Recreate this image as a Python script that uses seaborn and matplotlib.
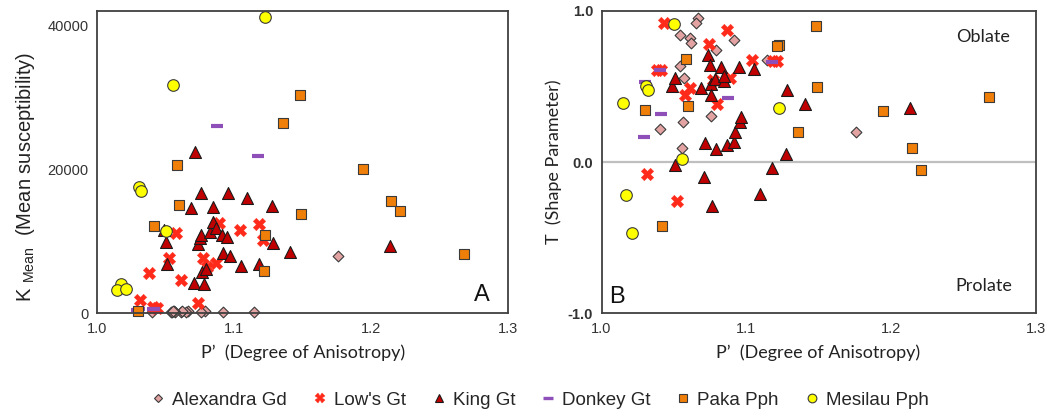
import numpy as np
import pandas as pd
import seaborn as sns
import matplotlib.pyplot as plt
from matplotlib.lines import Line2D

# ---- data ----
alex_p = [1.0664, 1.0650, 1.0540, 1.0609, 1.0619, 1.0917, 1.0788, 1.1147,
          1.0545, 1.0572, 1.0757, 1.0561, 1.0402, 1.0557, 1.1759]
alex_k = [250, 220, 230, 240, 260, 230, 250, 240, 210, 230, 240, 250, 220, 260, 7900]
alex_t = [0.954, 0.918, 0.844, 0.822, 0.791, 0.809, 0.743, 0.678,
          0.638, 0.559, 0.305, 0.263, 0.219, 0.092, 0.197]

lows_p = [1.0434, 1.0870, 1.0740, 1.1040, 1.1212, 1.1184, 1.0380, 1.0410,
          1.0614, 1.0576, 1.0800, 1.0888, 1.0770, 1.0316, 1.0525]
lows_k = [690, 7020, 1390, 11550, 10170, 12390, 5550, 900,
          4620, 11180, 6500, 12480, 7630, 1840, 7630]
lows_t = [0.918, 0.875, 0.783, 0.673, 0.668, 0.668, 0.609, 0.609,
          0.493, 0.443, 0.384, 0.559, 0.541, -0.079, -0.259]

king_p = [1.0488, 1.0505, 1.0508, 1.0689, 1.0705, 1.0712, 1.0738, 1.0749,
          1.0755, 1.0758, 1.0765, 1.0781, 1.0793, 1.0826, 1.0845, 1.0848,
          1.0867, 1.0913, 1.0921, 1.0951, 1.0956, 1.0967, 1.1052, 1.1095,
          1.1180, 1.1277, 1.1284, 1.1404, 1.2135]
king_k = [11550, 9930, 6800, 14650, 4160, 22410, 9570, 10490,
          16730, 10860, 5770, 4020, 6100, 11320, 14790, 12710,
          11790, 10860, 8410, 10540, 16780, 7950, 6560, 15950,
          6800, 14880, 9800, 8550, 9380]
king_t = [0.502, 0.559, -0.022, 0.493, -0.099, 0.129, 0.712, 0.640,
          0.520, 0.443, -0.292, 0.553, 0.086, 0.629, 0.535, 0.568,
          0.114, 0.136, 0.201, 0.629, 0.267, 0.296, 0.618, -0.211,
          -0.039, 0.053, 0.476, 0.384, 0.355]

donkey_p = [1.0877, 1.1175, 1.0292, 1.0303, 1.0407, 1.0414]
donkey_k = [26070, 21910, 500, 550, 550, 600]
donkey_t = [0.425, 0.662, 0.164, 0.530, 0.612, 0.316]

paka_p = [1.1484, 1.1486, 1.1355, 1.0581, 1.1943, 1.0595, 1.2145, 1.2211,
          1.0416, 1.1225, 1.1215, 1.0297, 1.2679]
paka_k = [30280, 13810, 26490, 20610, 20010, 15020, 15580, 14150,
          12110, 10860, 5820, 360, 8180]
paka_t = [0.903, 0.497, 0.199, 0.684, 0.340, 0.370, 0.094, -0.051,
          -0.424, 0.778, 0.770, 0.344, 0.428]

mes_p = [1.1226, 1.0555, 1.0307, 1.0323, 1.0500, 1.0172, 1.0145, 1.0211]
mes_k = [41230, 31760, 17560, 17000, 11460, 4060, 3230, 3330]
mes_t = [0.359, 0.022, 0.502, 0.476, 0.914, -0.215, 0.388, -0.472]

x_ticks = [1.0, 1.1, 1.2, 1.3]
k_ticks = [0, 10000, 20000, 30000, 40000]
k_labels = ["0", "", "20000", "", "40000"]
t_ticks = [-1.0, -0.5, 0.0, 0.5, 1.0]
t_labels = ["-1.0", "", "0.0", "", "1.0"]

# group name -> (P', K, T)
groups = {
    "Alexandra Gd": (alex_p, alex_k, alex_t),
    "Low's Gt": (lows_p, lows_k, lows_t),
    "King Gt": (king_p, king_k, king_t),
    "Donkey Gt": (donkey_p, donkey_k, donkey_t),
    "Paka Pph": (paka_p, paka_k, paka_t),
    "Mesilau Pph": (mes_p, mes_k, mes_t),
}

# marker styling per group
styles = {
    "Alexandra Gd": dict(marker="D", s=30, color="#E3A3A3", edgecolor="#3A3A3A", linewidth=0.8),
    "Low's Gt": dict(marker="X", s=80, color="#FF2A1A", edgecolor="#FF2A1A", linewidth=0.3),
    "King Gt": dict(marker="^", s=74, color="#C00000", edgecolor="#1A1A1A", linewidth=0.8),
    "Donkey Gt": dict(marker="_", s=80, color="#8E4FB8", edgecolor="#8E4FB8", linewidth=3.0),
    "Paka Pph": dict(marker="s", s=46, color="#F07F0A", edgecolor="#3A3A3A", linewidth=0.8),
    "Mesilau Pph": dict(marker="o", s=70, color="#FFFF00", edgecolor="#3A3A3A", linewidth=0.8),
}

rows = []
for name, (p, k, t) in groups.items():
    for pi, ki, ti in zip(p, k, t):
        rows.append({"group": name, "P": pi, "K": ki, "T": ti})
df = pd.DataFrame(rows)

sns.set_theme(style="white")
plt.rcParams["font.family"] = ["Liberation Sans", "DejaVu Sans"]
plt.rcParams["mathtext.fontset"] = "custom"
plt.rcParams["mathtext.rm"] = "Liberation Sans"

fig = plt.figure(figsize=(10.5, 4.19), dpi=100)
ax1 = fig.add_axes([0.0924, 0.2523, 0.3917, 0.7215])
ax2 = fig.add_axes([0.5729, 0.2523, 0.4133, 0.7215])

ax2.axhline(0, color="#BFBFBF", lw=1.6, zorder=0)

for name in groups:
    sub = df[df["group"] == name]
    st = styles[name]
    for ax, col in ((ax1, "K"), (ax2, "T")):
        sns.scatterplot(data=sub, x="P", y=col, ax=ax, legend=False,
                        clip_on=False, **st)

for ax in (ax1, ax2):
    ax.set_xlim(1.0, 1.3)
    ax.set_xticks(x_ticks)
    ax.set_xticklabels([f"{v:.1f}" for v in x_ticks], fontsize=10.5, color="#333333")
    ax.tick_params(direction="in", length=5, width=1.1, colors="#404040", pad=6)
    for lbl in ax.get_xticklabels() + ax.get_yticklabels():
        lbl.set_color("#333333")
    for sp in ax.spines.values():
        sp.set_color("#404040")
        sp.set_linewidth(1.3)
    ax.set_xlabel("P\u2019  (Degree of Anisotropy)", family=["Lato", "DejaVu Sans"],
                  fontsize=13, color="#222222", labelpad=6)

ax1.set_ylim(0, 42000)
ax1.set_yticks(k_ticks)
ax1.set_yticklabels(k_labels, fontsize=10.5, color="#333333")
ax1.set_ylabel(r"K $_{\rm Mean}$  (Mean susceptibility)", fontsize=14.5, color="#222222")
ax1.yaxis.set_label_coords(-0.145, 0.45)

ax2.set_ylim(-1.0, 1.0)
ax2.set_yticks(t_ticks)
ax2.set_yticklabels(t_labels, fontsize=10.5, color="#333333", fontweight="bold")
ax2.set_ylabel("T  (Shape Parameter)", family=["Lato", "DejaVu Sans"], fontsize=13,
               color="#222222")
ax2.yaxis.set_label_coords(-0.09, 0.5)

ax1.text(0.935, 0.06, "A", transform=ax1.transAxes, fontsize=17, ha="center",
         va="center", color="#111111")
ax2.text(0.035, 0.055, "B", transform=ax2.transAxes, fontsize=17, ha="center",
         va="center", color="#111111")
ax2.text(0.88, 0.915, "Oblate", transform=ax2.transAxes, fontsize=13, ha="center",
         va="center", family=["Lato", "DejaVu Sans"], color="#222222")
ax2.text(0.88, 0.09, "Prolate", transform=ax2.transAxes, fontsize=13, ha="center",
         va="center", family=["Lato", "DejaVu Sans"], color="#222222")

handles = []
for name in groups:
    st = styles[name]
    handles.append(Line2D([], [], ls="none", marker=st["marker"],
                          markersize=np.sqrt(st["s"]) * 0.75,
                          markerfacecolor=st["color"], markeredgecolor=st["edgecolor"],
                          markeredgewidth=st["linewidth"] * (0.8 if name == "Donkey Gt" else 1.0),
                          label=name))
fig.legend(handles=handles, loc="center", bbox_to_anchor=(0.513, 0.045), ncol=6,
           frameon=False, fontsize=13.5, handletextpad=0.25, columnspacing=1.25,
           handlelength=1.0)

fig.savefig("out.png", dpi=100)
